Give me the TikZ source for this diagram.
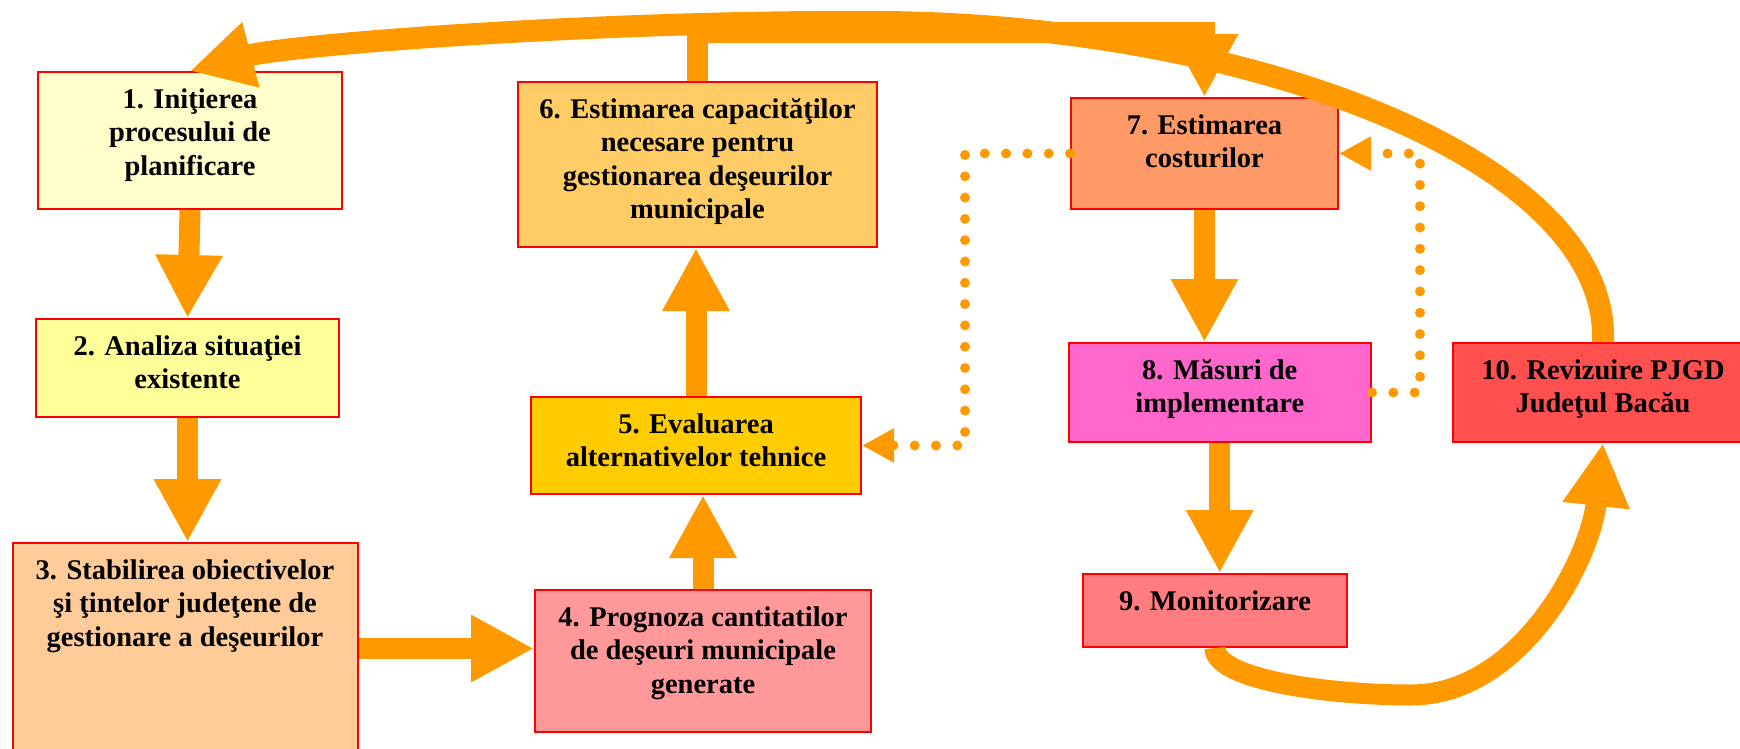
\documentclass[tikz,border=0pt]{standalone}
\usepackage{fontspec}
\setmainfont{Liberation Serif}
\usetikzlibrary{arrows.meta}

\definecolor{flowc}{HTML}{FF9900}
\definecolor{c1}{HTML}{FFFFCC}
\definecolor{c2}{HTML}{FFFF99}
\definecolor{c3}{HTML}{FFCC99}
\definecolor{c4}{HTML}{FF9999}
\definecolor{c5}{HTML}{FFCC00}
\definecolor{c6}{HTML}{FFCC66}
\definecolor{c7}{HTML}{FF9966}
\definecolor{c8}{HTML}{FF66CC}
\definecolor{c9}{HTML}{FF7C80}
\definecolor{c10}{HTML}{FF5050}

\tikzset{
  stage/.style={draw=red, line width=2pt, inner sep=0pt, rectangle},
  caption/.style={anchor=north, align=center, inner sep=0pt, text=black,
    font=\fontsize{28.5}{33.5}\selectfont\bfseries},
  flow/.style={draw=flowc, line width=21pt,
    -{Triangle[length=63pt,width=63pt]}},
  bigflow/.style={draw=flowc, line width=22pt,
    -{Triangle[length=63pt,width=63pt]}},
  dots/.style={draw=flowc, line width=10pt, line cap=round,
    dash pattern=on 0pt off 21.3pt,
    -{Triangle[length=32pt,width=32pt]}}
}

\begin{document}
\begin{tikzpicture}[x=1pt,y=-1pt]
\useasboundingbox (0,0) rectangle (1740,749);
\fill[white] (0,0) rectangle (1740,749);

% stage boxes
\node[stage, fill=c1, minimum width=304pt, minimum height=137pt] (n1) at (190,140.5) {};
\node[stage, fill=c2, minimum width=303pt, minimum height=98pt] (n2) at (187.5,368) {};
\node[stage, fill=c3, minimum width=345pt, minimum height=211pt] (n3) at (185,648.5) {};
\node[stage, fill=c4, minimum width=336pt, minimum height=142pt] (n4) at (703,661) {};
\node[stage, fill=c5, minimum width=330pt, minimum height=97pt] (n5) at (696,445.5) {};
\node[stage, fill=c6, minimum width=359pt, minimum height=165pt] (n6) at (697.5,164.5) {};
\node[stage, fill=c7, minimum width=267pt, minimum height=111pt] (n7) at (1204.5,153.5) {};
\node[stage, fill=c8, minimum width=302.5pt, minimum height=99pt] (n8) at (1219.75,392.5) {};
\node[stage, fill=c9, minimum width=264pt, minimum height=73pt] (n9) at (1215,610.5) {};
\node[stage, fill=c10, minimum width=300pt, minimum height=99pt] (n10) at (1603,392.5) {};

% captions
\node[caption] (t1) at ([yshift=-13.5pt]n1.north) {\strut 1. Iniţierea\\procesului de\\planificare};
\node[caption] (t2) at ([yshift=-13.5pt]n2.north) {\strut 2. Analiza situaţiei\\existente};
\node[caption] (t3) at ([yshift=-13.5pt]n3.north) {\strut 3. Stabilirea obiectivelor\\şi ţintelor judeţene de\\gestionare a deşeurilor};
\node[caption] (t4) at ([yshift=-13.5pt]n4.north) {\strut 4. Prognoza cantitatilor\\de deşeuri municipale\\generate};
\node[caption] (t5) at ([yshift=-13.5pt]n5.north) {\strut 5. Evaluarea\\alternativelor tehnice};
\node[caption] (t6) at ([yshift=-13.5pt]n6.north) {\strut 6. Estimarea capacităţilor\\necesare pentru\\gestionarea deşeurilor\\municipale};
\node[caption] (t7) at ([yshift=-13.5pt]n7.north) {\strut 7. Estimarea\\costurilor};
\node[caption] (t8) at ([yshift=-13.5pt]n8.north) {\strut 8. Măsuri de\\implementare};
\node[caption] (t9) at ([yshift=-13.5pt]n9.north) {\strut 9. Monitorizare};
\node[caption] (t10) at ([yshift=-13.5pt]n10.north) {\strut 10. Revizuire PJGD\\Judeţul Bacău};

% straight flow arrows
\draw[flow] (n1.south) -- (n2.north);
\draw[flow] (n2.south) -- (n2.south |- n3.north);
\draw[flow] (n3.east) -- (n3.east -| n4.west);
\draw[flow] (n4.north) -- (n4.north |- n5.south);
\draw[flow] (n5.north) -- (n5.north |- n6.south);
\draw[flow, line join=miter] (n6.north) -- ++(0,-48) -| (n7.north);
\draw[flow] (n7.south) -- (n7.south |- n8.north);
\draw[flow] (n8.south) -- (n8.south |- n9.north);

% curved feedback arrows
\draw[flow] (n9.south) .. controls (1215,680) and (1330,695) .. (1411,695)
  .. controls (1520,695) and (1590,560) .. (n10.south);
\draw[bigflow] (n10.north) .. controls (1610,160) and (1250,25) .. (883,22)
  .. controls (600,20) and (288,45) .. (n1.north);

% dotted links
\draw[dots] (n7.west) -- ++(-105,0) |- (n5.east);
\draw[dots] (n8.east) -- ++(48,0) |- (n7.east);
\end{tikzpicture}
\end{document}
